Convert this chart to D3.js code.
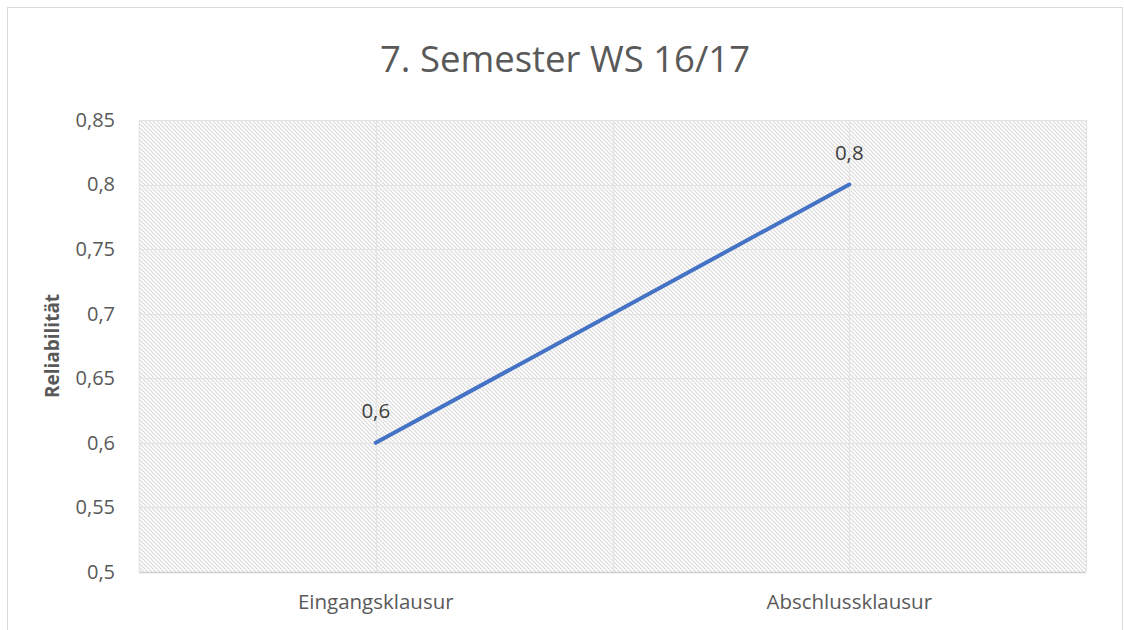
<!DOCTYPE html>
<html><head><meta charset="utf-8">
<script src="https://cdn.jsdelivr.net/npm/d3@7"></script>
<style>body{margin:0;background:#fff}svg{display:block}</style>
</head><body>
<script>
const categories = ["Eingangsklausur", "Abschlussklausur"];
const values = [0.6, 0.8];
const valueLabels = ["0,6", "0,8"];
const yTicks = [0.5, 0.55, 0.6, 0.65, 0.7, 0.75, 0.8, 0.85];
const yTickLabels = ["0,5", "0,55", "0,6", "0,65", "0,7", "0,75", "0,8", "0,85"];
const title = "7. Semester WS 16/17";
const yTitle = "Reliabilität";

const W = 1124, H = 630;
const m = {left: 139, right: 1086, top: 120, bottom: 572};
const svg = d3.select("body").append("svg").attr("width", W).attr("height", H);
const font = "'Open Sans', 'Noto Sans', sans-serif";

const defs = svg.append("defs");
const pat = defs.append("pattern").attr("id", "hatch").attr("patternUnits", "userSpaceOnUse")
  .attr("width", 4).attr("height", 4);
pat.append("rect").attr("width", 4).attr("height", 4).attr("fill", "#fff");
pat.append("path").attr("d", "M-1,-1 L5,5 M-1,3 L1,5 M3,-1 L5,1")
  .attr("stroke", "#d9d9d9").attr("stroke-width", 1.1);

// outer border
svg.append("rect").attr("x", 7.5).attr("y", 7.5).attr("width", W - 9).attr("height", H).attr("fill", "none").attr("stroke", "#d9d9d9");

const x = d3.scaleBand().domain(categories).range([m.left, m.right]);
const y = d3.scaleLinear().domain([0.5, 0.85]).range([m.bottom, m.top]);

svg.append("rect").attr("x", m.left).attr("y", m.top).attr("width", m.right - m.left)
  .attr("height", m.bottom - m.top).attr("fill", "url(#hatch)");

// horizontal gridlines
svg.append("g").selectAll("line").data(yTicks).join("line")
  .attr("x1", m.left).attr("x2", m.right)
  .attr("y1", d => Math.round(y(d)) + 0.5).attr("y2", d => Math.round(y(d)) + 0.5)
  .attr("stroke", "#e3e3e3").attr("stroke-width", 1.2);
// vertical gridlines: band edges and centers
const vlines = [m.left, m.right].concat(categories.map(c => x(c))).concat(categories.map(c => x(c) + x.bandwidth() / 2));
svg.append("g").selectAll("line").data(vlines).join("line")
  .attr("x1", d => Math.round(d) + 0.5).attr("x2", d => Math.round(d) + 0.5)
  .attr("y1", m.top).attr("y2", m.bottom)
  .attr("stroke", "#e3e3e3").attr("stroke-width", 1.2);
// bottom axis line
svg.append("line").attr("x1", m.left).attr("x2", m.right).attr("y1", m.bottom + 0.5).attr("y2", m.bottom + 0.5)
  .attr("stroke", "#d0d0d0").attr("stroke-width", 1.5);

// y axis labels
const yAxis = d3.axisLeft(y).tickValues(yTicks).tickFormat((d, i) => yTickLabels[i]).tickSize(0).tickPadding(24);
const gy = svg.append("g").attr("transform", `translate(${m.left},0)`).call(yAxis);
gy.select(".domain").remove();
gy.selectAll("text").attr("font-family", font).attr("font-size", 20).attr("fill", "#595959");

// x axis labels
const xAxis = d3.axisBottom(x).tickSize(0).tickPadding(22);
const gx = svg.append("g").attr("transform", `translate(0,${m.bottom})`).call(xAxis);
gx.select(".domain").remove();
gx.selectAll("text").attr("font-family", font).attr("font-size", 20.5).attr("fill", "#595959");

// line
const line = d3.line().x((d, i) => x(categories[i]) + x.bandwidth() / 2).y(d => y(d));
svg.append("path").datum(values).attr("d", line).attr("fill", "none")
  .attr("stroke", "#4472C4").attr("stroke-width", 4).attr("stroke-linecap", "round");

// data labels
svg.append("g").selectAll("text").data(values).join("text")
  .attr("x", (d, i) => x(categories[i]) + x.bandwidth() / 2)
  .attr("y", d => y(d) - 25)
  .attr("text-anchor", "middle").attr("font-family", font).attr("font-size", 20.5).attr("fill", "#404040")
  .text((d, i) => valueLabels[i]);

// title
svg.append("text").attr("x", 565).attr("y", 72).attr("text-anchor", "middle")
  .attr("font-family", font).attr("font-size", 36.5).attr("fill", "#595959").text(title);

// y title
svg.append("text").attr("transform", `translate(59,${(m.top + m.bottom) / 2}) rotate(-90)`)
  .attr("text-anchor", "middle").attr("font-family", font).attr("font-size", 19).attr("font-weight", "bold")
  .attr("fill", "#595959").text(yTitle);
</script>
</body></html>
